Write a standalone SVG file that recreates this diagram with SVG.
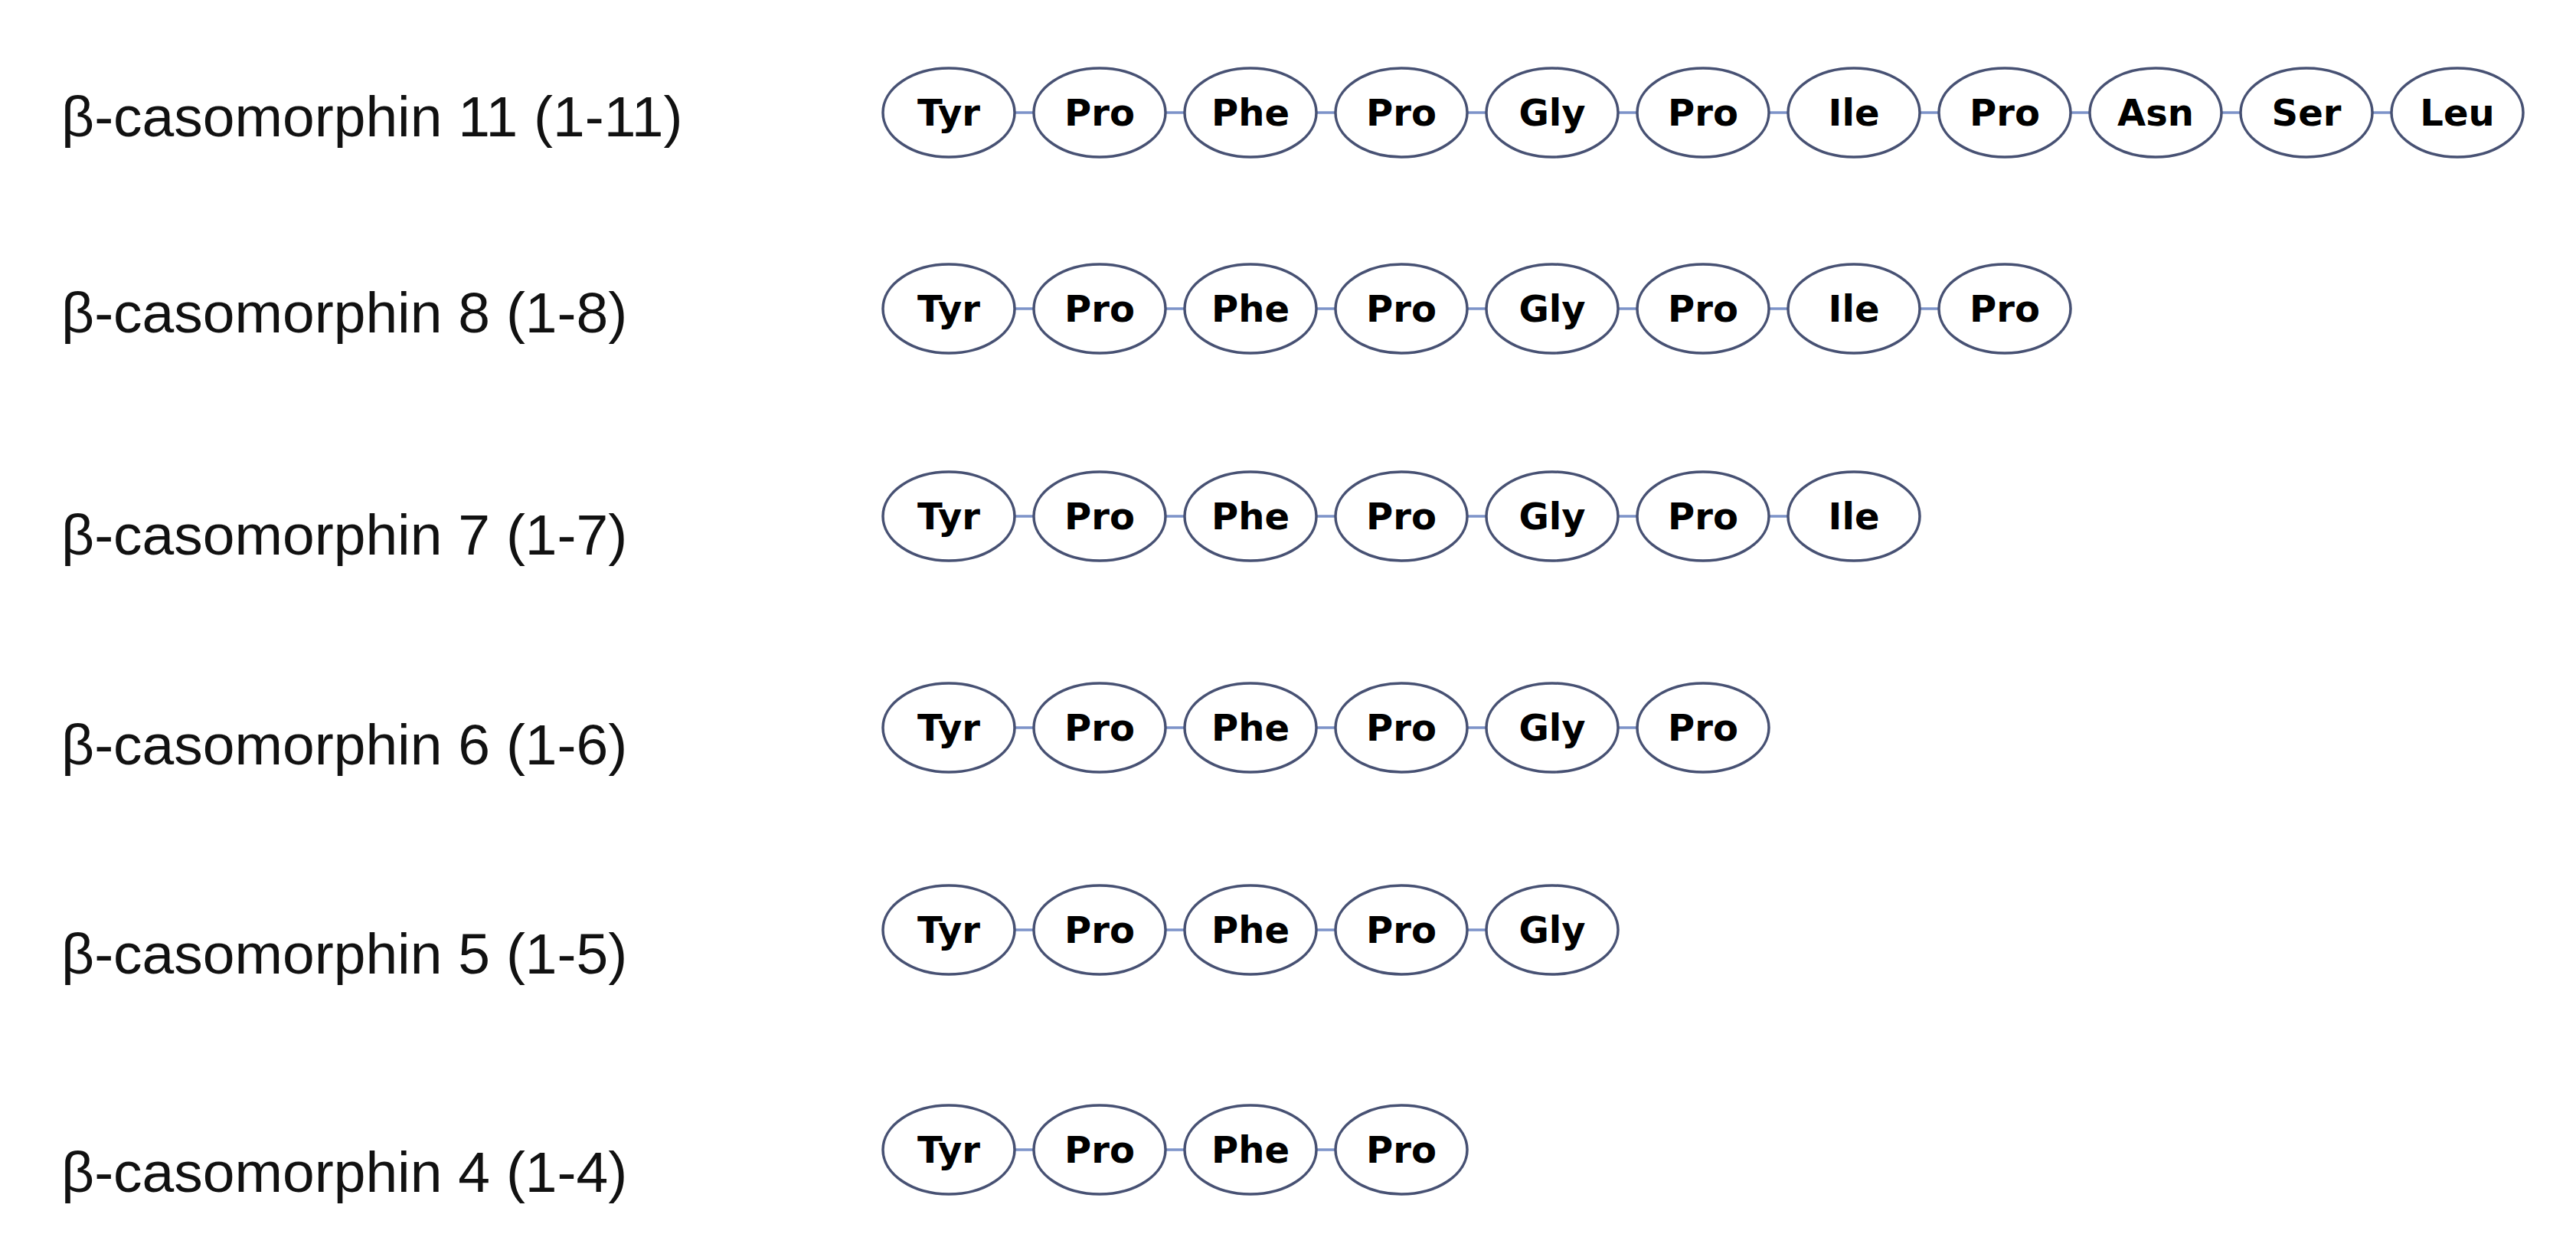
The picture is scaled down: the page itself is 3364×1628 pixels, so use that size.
<svg xmlns="http://www.w3.org/2000/svg" width="3364" height="1628" viewBox="0 0 3364 1628">
<style>
.lbl{font-family:"Liberation Sans",Arial,sans-serif;font-size:75px;fill:#111}
.aa ellipse{fill:#fff;stroke:#475173;stroke-width:3.5}
.aa text{font-family:"DejaVu Sans",Tahoma,sans-serif;font-weight:bold;font-size:48px;fill:#000;text-anchor:middle}
.bond{stroke:#7d93c9;stroke-width:3.5}
</style>
<rect width="3364" height="1628" fill="#fff"/>
<g id="labels">
<text class="lbl" x="80" y="178">β-casomorphin 11 (1-11)</text>
<text class="lbl" x="80" y="434">β-casomorphin 8 (1-8)</text>
<text class="lbl" x="80" y="724">β-casomorphin 7 (1-7)</text>
<text class="lbl" x="80" y="998">β-casomorphin 6 (1-6)</text>
<text class="lbl" x="80" y="1271">β-casomorphin 5 (1-5)</text>
<text class="lbl" x="80" y="1556">β-casomorphin 4 (1-4)</text>
</g>
<g id="connectors">
<line class="bond" x1="1325" y1="147" x2="1350" y2="147"/><line class="bond" x1="1522" y1="147" x2="1547" y2="147"/><line class="bond" x1="1719" y1="147" x2="1744" y2="147"/><line class="bond" x1="1916" y1="147" x2="1941" y2="147"/><line class="bond" x1="2113" y1="147" x2="2138" y2="147"/><line class="bond" x1="2310" y1="147" x2="2335" y2="147"/><line class="bond" x1="2507" y1="147" x2="2532" y2="147"/><line class="bond" x1="2704" y1="147" x2="2729" y2="147"/><line class="bond" x1="2901" y1="147" x2="2926" y2="147"/><line class="bond" x1="3098" y1="147" x2="3123" y2="147"/>
<line class="bond" x1="1325" y1="403" x2="1350" y2="403"/><line class="bond" x1="1522" y1="403" x2="1547" y2="403"/><line class="bond" x1="1719" y1="403" x2="1744" y2="403"/><line class="bond" x1="1916" y1="403" x2="1941" y2="403"/><line class="bond" x1="2113" y1="403" x2="2138" y2="403"/><line class="bond" x1="2310" y1="403" x2="2335" y2="403"/><line class="bond" x1="2507" y1="403" x2="2532" y2="403"/>
<line class="bond" x1="1325" y1="674" x2="1350" y2="674"/><line class="bond" x1="1522" y1="674" x2="1547" y2="674"/><line class="bond" x1="1719" y1="674" x2="1744" y2="674"/><line class="bond" x1="1916" y1="674" x2="1941" y2="674"/><line class="bond" x1="2113" y1="674" x2="2138" y2="674"/><line class="bond" x1="2310" y1="674" x2="2335" y2="674"/>
<line class="bond" x1="1325" y1="950" x2="1350" y2="950"/><line class="bond" x1="1522" y1="950" x2="1547" y2="950"/><line class="bond" x1="1719" y1="950" x2="1744" y2="950"/><line class="bond" x1="1916" y1="950" x2="1941" y2="950"/><line class="bond" x1="2113" y1="950" x2="2138" y2="950"/>
<line class="bond" x1="1325" y1="1214" x2="1350" y2="1214"/><line class="bond" x1="1522" y1="1214" x2="1547" y2="1214"/><line class="bond" x1="1719" y1="1214" x2="1744" y2="1214"/><line class="bond" x1="1916" y1="1214" x2="1941" y2="1214"/>
<line class="bond" x1="1325" y1="1501" x2="1350" y2="1501"/><line class="bond" x1="1522" y1="1501" x2="1547" y2="1501"/><line class="bond" x1="1719" y1="1501" x2="1744" y2="1501"/>
</g>
<g id="bcm11">
<g id="bcm11-1" class="aa"><ellipse cx="1239" cy="147" rx="86" ry="58"/><text x="1239" y="164">Tyr</text></g>
<g id="bcm11-2" class="aa"><ellipse cx="1436" cy="147" rx="86" ry="58"/><text x="1436" y="164">Pro</text></g>
<g id="bcm11-3" class="aa"><ellipse cx="1633" cy="147" rx="86" ry="58"/><text x="1633" y="164">Phe</text></g>
<g id="bcm11-4" class="aa"><ellipse cx="1830" cy="147" rx="86" ry="58"/><text x="1830" y="164">Pro</text></g>
<g id="bcm11-5" class="aa"><ellipse cx="2027" cy="147" rx="86" ry="58"/><text x="2027" y="164">Gly</text></g>
<g id="bcm11-6" class="aa"><ellipse cx="2224" cy="147" rx="86" ry="58"/><text x="2224" y="164">Pro</text></g>
<g id="bcm11-7" class="aa"><ellipse cx="2421" cy="147" rx="86" ry="58"/><text x="2421" y="164">Ile</text></g>
<g id="bcm11-8" class="aa"><ellipse cx="2618" cy="147" rx="86" ry="58"/><text x="2618" y="164">Pro</text></g>
<g id="bcm11-9" class="aa"><ellipse cx="2815" cy="147" rx="86" ry="58"/><text x="2815" y="164">Asn</text></g>
<g id="bcm11-10" class="aa"><ellipse cx="3012" cy="147" rx="86" ry="58"/><text x="3012" y="164">Ser</text></g>
<g id="bcm11-11" class="aa"><ellipse cx="3209" cy="147" rx="86" ry="58"/><text x="3209" y="164">Leu</text></g>
</g>
<g id="bcm8">
<g id="bcm8-1" class="aa"><ellipse cx="1239" cy="403" rx="86" ry="58"/><text x="1239" y="420">Tyr</text></g>
<g id="bcm8-2" class="aa"><ellipse cx="1436" cy="403" rx="86" ry="58"/><text x="1436" y="420">Pro</text></g>
<g id="bcm8-3" class="aa"><ellipse cx="1633" cy="403" rx="86" ry="58"/><text x="1633" y="420">Phe</text></g>
<g id="bcm8-4" class="aa"><ellipse cx="1830" cy="403" rx="86" ry="58"/><text x="1830" y="420">Pro</text></g>
<g id="bcm8-5" class="aa"><ellipse cx="2027" cy="403" rx="86" ry="58"/><text x="2027" y="420">Gly</text></g>
<g id="bcm8-6" class="aa"><ellipse cx="2224" cy="403" rx="86" ry="58"/><text x="2224" y="420">Pro</text></g>
<g id="bcm8-7" class="aa"><ellipse cx="2421" cy="403" rx="86" ry="58"/><text x="2421" y="420">Ile</text></g>
<g id="bcm8-8" class="aa"><ellipse cx="2618" cy="403" rx="86" ry="58"/><text x="2618" y="420">Pro</text></g>
</g>
<g id="bcm7">
<g id="bcm7-1" class="aa"><ellipse cx="1239" cy="674" rx="86" ry="58"/><text x="1239" y="691">Tyr</text></g>
<g id="bcm7-2" class="aa"><ellipse cx="1436" cy="674" rx="86" ry="58"/><text x="1436" y="691">Pro</text></g>
<g id="bcm7-3" class="aa"><ellipse cx="1633" cy="674" rx="86" ry="58"/><text x="1633" y="691">Phe</text></g>
<g id="bcm7-4" class="aa"><ellipse cx="1830" cy="674" rx="86" ry="58"/><text x="1830" y="691">Pro</text></g>
<g id="bcm7-5" class="aa"><ellipse cx="2027" cy="674" rx="86" ry="58"/><text x="2027" y="691">Gly</text></g>
<g id="bcm7-6" class="aa"><ellipse cx="2224" cy="674" rx="86" ry="58"/><text x="2224" y="691">Pro</text></g>
<g id="bcm7-7" class="aa"><ellipse cx="2421" cy="674" rx="86" ry="58"/><text x="2421" y="691">Ile</text></g>
</g>
<g id="bcm6">
<g id="bcm6-1" class="aa"><ellipse cx="1239" cy="950" rx="86" ry="58"/><text x="1239" y="967">Tyr</text></g>
<g id="bcm6-2" class="aa"><ellipse cx="1436" cy="950" rx="86" ry="58"/><text x="1436" y="967">Pro</text></g>
<g id="bcm6-3" class="aa"><ellipse cx="1633" cy="950" rx="86" ry="58"/><text x="1633" y="967">Phe</text></g>
<g id="bcm6-4" class="aa"><ellipse cx="1830" cy="950" rx="86" ry="58"/><text x="1830" y="967">Pro</text></g>
<g id="bcm6-5" class="aa"><ellipse cx="2027" cy="950" rx="86" ry="58"/><text x="2027" y="967">Gly</text></g>
<g id="bcm6-6" class="aa"><ellipse cx="2224" cy="950" rx="86" ry="58"/><text x="2224" y="967">Pro</text></g>
</g>
<g id="bcm5">
<g id="bcm5-1" class="aa"><ellipse cx="1239" cy="1214" rx="86" ry="58"/><text x="1239" y="1231">Tyr</text></g>
<g id="bcm5-2" class="aa"><ellipse cx="1436" cy="1214" rx="86" ry="58"/><text x="1436" y="1231">Pro</text></g>
<g id="bcm5-3" class="aa"><ellipse cx="1633" cy="1214" rx="86" ry="58"/><text x="1633" y="1231">Phe</text></g>
<g id="bcm5-4" class="aa"><ellipse cx="1830" cy="1214" rx="86" ry="58"/><text x="1830" y="1231">Pro</text></g>
<g id="bcm5-5" class="aa"><ellipse cx="2027" cy="1214" rx="86" ry="58"/><text x="2027" y="1231">Gly</text></g>
</g>
<g id="bcm4">
<g id="bcm4-1" class="aa"><ellipse cx="1239" cy="1501" rx="86" ry="58"/><text x="1239" y="1518">Tyr</text></g>
<g id="bcm4-2" class="aa"><ellipse cx="1436" cy="1501" rx="86" ry="58"/><text x="1436" y="1518">Pro</text></g>
<g id="bcm4-3" class="aa"><ellipse cx="1633" cy="1501" rx="86" ry="58"/><text x="1633" y="1518">Phe</text></g>
<g id="bcm4-4" class="aa"><ellipse cx="1830" cy="1501" rx="86" ry="58"/><text x="1830" y="1518">Pro</text></g>
</g>
</svg>
